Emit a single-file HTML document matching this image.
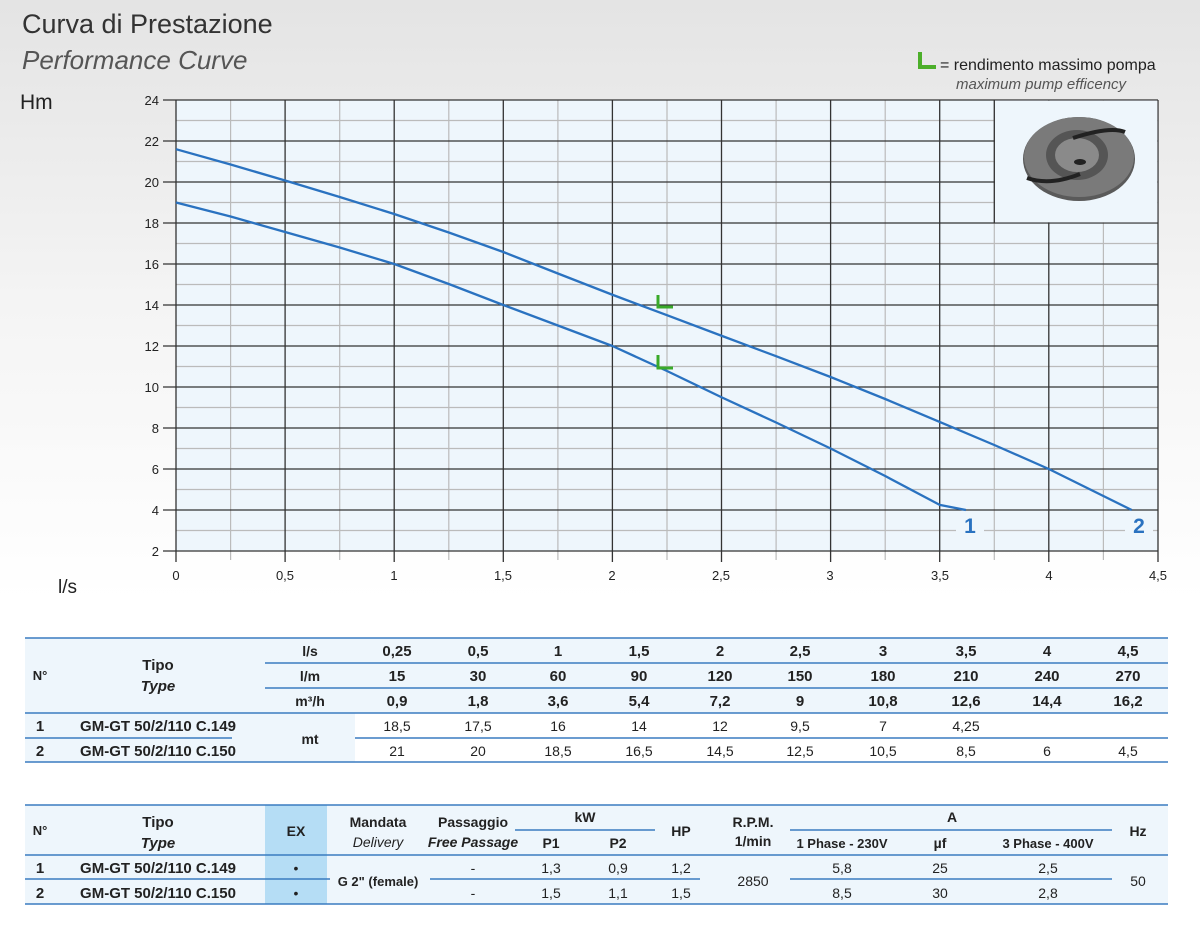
<!DOCTYPE html>
<html><head><meta charset="utf-8"><style>
html,body{margin:0;padding:0}
body{width:1200px;height:929px;overflow:hidden;background:linear-gradient(#e4e4e4 0px,#f4f4f4 300px,#fff 600px);}
svg{display:block;font-family:"Liberation Sans",sans-serif}
.c{font-family:"Liberation Sans Narrow","Liberation Sans",sans-serif;font-weight:bold;font-size:14px;fill:#222;text-anchor:middle}
.n{font-family:"Liberation Sans",sans-serif;font-size:14px;fill:#222;text-anchor:middle}
.tk{font-size:13px;fill:#222}
</style></head><body>
<svg width="1200" height="929" viewBox="0 0 1200 929">
<text x="22" y="33" font-size="27" fill="#333">Curva di Prestazione</text>
<text x="22" y="69" font-size="26" font-style="italic" fill="#555">Performance Curve</text>
<text x="20" y="109" font-size="21" fill="#222">Hm</text>
<text x="58" y="593" font-size="19" fill="#222">l/s</text>
<path d="M920 52 V67 H936" stroke="#4caf2a" stroke-width="4" fill="none"/>
<text x="940" y="70" font-size="16" fill="#222">= rendimento massimo pompa</text>
<text x="956" y="89" font-size="15" font-style="italic" fill="#555">maximum pump efficency</text>

<rect x="176" y="100" width="982" height="451" fill="#eef6fc"/>
<g stroke="#bbb" stroke-width="1.2">
<line x1="230.6" y1="100" x2="230.6" y2="560"/><line x1="339.7" y1="100" x2="339.7" y2="560"/><line x1="448.8" y1="100" x2="448.8" y2="560"/><line x1="557.9" y1="100" x2="557.9" y2="560"/><line x1="667" y1="100" x2="667" y2="560"/><line x1="776.1" y1="100" x2="776.1" y2="560"/><line x1="885.2" y1="100" x2="885.2" y2="560"/><line x1="994.3" y1="100" x2="994.3" y2="560"/><line x1="1103.4" y1="100" x2="1103.4" y2="560"/>
<line x1="176" y1="120.5" x2="1158" y2="120.5"/><line x1="176" y1="161.5" x2="1158" y2="161.5"/><line x1="176" y1="202.5" x2="1158" y2="202.5"/><line x1="176" y1="243.5" x2="1158" y2="243.5"/><line x1="176" y1="284.5" x2="1158" y2="284.5"/><line x1="176" y1="325.5" x2="1158" y2="325.5"/><line x1="176" y1="366.5" x2="1158" y2="366.5"/><line x1="176" y1="407.5" x2="1158" y2="407.5"/><line x1="176" y1="448.5" x2="1158" y2="448.5"/><line x1="176" y1="489.5" x2="1158" y2="489.5"/><line x1="176" y1="530.5" x2="1158" y2="530.5"/>
</g>
<g stroke="#333" stroke-width="1.3">
<line x1="176" y1="100" x2="176" y2="562"/><line x1="285.1" y1="100" x2="285.1" y2="562"/><line x1="394.2" y1="100" x2="394.2" y2="562"/><line x1="503.3" y1="100" x2="503.3" y2="562"/><line x1="612.4" y1="100" x2="612.4" y2="562"/><line x1="721.5" y1="100" x2="721.5" y2="562"/><line x1="830.6" y1="100" x2="830.6" y2="562"/><line x1="939.7" y1="100" x2="939.7" y2="562"/><line x1="1048.8" y1="100" x2="1048.8" y2="562"/><line x1="1158" y1="100" x2="1158" y2="562"/>
<line x1="163" y1="100" x2="1158" y2="100"/><line x1="163" y1="141" x2="1158" y2="141"/><line x1="163" y1="182" x2="1158" y2="182"/><line x1="163" y1="223" x2="1158" y2="223"/><line x1="163" y1="264" x2="1158" y2="264"/><line x1="163" y1="305" x2="1158" y2="305"/><line x1="163" y1="346" x2="1158" y2="346"/><line x1="163" y1="387" x2="1158" y2="387"/><line x1="163" y1="428" x2="1158" y2="428"/><line x1="163" y1="469" x2="1158" y2="469"/><line x1="163" y1="510" x2="1158" y2="510"/><line x1="163" y1="551" x2="1158" y2="551"/>
</g>
<rect x="995" y="100.7" width="162.3" height="121.6" fill="#eef6fc" stroke="none"/>
<line x1="994.3" y1="100" x2="994.3" y2="223" stroke="#333" stroke-width="1.3"/>
<ellipse cx="1079" cy="159" rx="56" ry="42" fill="#5a5a5a"/>
<ellipse cx="1079" cy="157" rx="55" ry="40" fill="#7a7a7a"/>
<ellipse cx="1077" cy="155" rx="31" ry="25" fill="#555"/>
<ellipse cx="1077" cy="155" rx="22" ry="17" fill="#8a8a8a"/>
<ellipse cx="1080" cy="162" rx="6" ry="3" fill="#222"/>
<path d="M1073 138 Q1110 126 1125 132" stroke="#222" stroke-width="4" fill="none"/>
<path d="M1080 174 Q1050 186 1027 178" stroke="#222" stroke-width="4" fill="none"/>
<g class="tk" text-anchor="end">
<text x="159" y="105">24</text><text x="159" y="146">22</text><text x="159" y="187">20</text><text x="159" y="228">18</text><text x="159" y="269">16</text><text x="159" y="310">14</text><text x="159" y="351">12</text><text x="159" y="392">10</text><text x="159" y="433">8</text><text x="159" y="474">6</text><text x="159" y="515">4</text><text x="159" y="556">2</text>
</g>
<g class="tk" text-anchor="middle">
<text x="176" y="580">0</text><text x="285" y="580">0,5</text><text x="394" y="580">1</text><text x="503" y="580">1,5</text><text x="612" y="580">2</text><text x="721" y="580">2,5</text><text x="830" y="580">3</text><text x="940" y="580">3,5</text><text x="1049" y="580">4</text><text x="1158" y="580">4,5</text>
</g>
<g fill="none" stroke="#2a72c0" stroke-width="2.3" stroke-linejoin="round">
<polyline points="176,202.5 230.6,216.5 285.1,232 339.7,247.5 394.2,264 448.8,284 503.3,305 557.9,325.5 612.4,346 667,371 721.5,397.25 776.1,422.5 830.6,448.5 885.2,476 939.7,504.9 965.9,510"/>
<polyline points="176,149.2 230.6,164.5 285.1,180.5 339.7,197 394.2,214 448.8,232.5 503.3,252 557.9,273.5 612.4,294.75 667,315.2 721.5,335.75 776.1,356.2 830.6,377 885.2,399 939.7,421.9 994.3,445 1048.8,469 1131.7,510"/>
</g>
<path d="M658 295 V307 H673 M658 355 V368 H673" stroke="#3aaa2a" stroke-width="3" fill="none"/>
<rect x="956" y="514" width="28" height="24" fill="#eef6fc"/>
<rect x="1125" y="514" width="28" height="24" fill="#eef6fc"/>
<text x="970" y="533" font-size="21" font-weight="bold" fill="#2a72c0" text-anchor="middle">1</text>
<text x="1139" y="533" font-size="21" font-weight="bold" fill="#2a72c0" text-anchor="middle">2</text>

<!-- Table 1 -->
<rect x="25" y="638" width="1143" height="124" fill="#eef6fc"/>
<rect x="355" y="713" width="813" height="49" fill="#fff"/>
<g stroke="#3a7cc0" stroke-width="1.5">
<line x1="25" y1="638" x2="1168" y2="638"/><line x1="265" y1="663" x2="1168" y2="663"/><line x1="265" y1="688" x2="1168" y2="688"/><line x1="25" y1="713" x2="1168" y2="713"/><line x1="25" y1="738" x2="232" y2="738"/><line x1="355" y1="738" x2="1168" y2="738"/><line x1="25" y1="762" x2="1168" y2="762"/>
</g>
<text class="c" x="40" y="680" style="font-size:13px">N°</text>
<text class="c" x="158" y="670" style="font-size:15px">Tipo</text>
<text class="c" x="158" y="691" style="font-size:15px;font-style:italic">Type</text>
<text class="c" x="310" y="656">l/s</text><text class="c" x="310" y="681">l/m</text><text class="c" x="310" y="706">m³/h</text>
<g class="c" style="font-size:15px">
<text x="397" y="656">0,25</text><text x="478" y="656">0,5</text><text x="558" y="656">1</text><text x="639" y="656">1,5</text><text x="720" y="656">2</text><text x="800" y="656">2,5</text><text x="883" y="656">3</text><text x="966" y="656">3,5</text><text x="1047" y="656">4</text><text x="1128" y="656">4,5</text>
<text x="397" y="681">15</text><text x="478" y="681">30</text><text x="558" y="681">60</text><text x="639" y="681">90</text><text x="720" y="681">120</text><text x="800" y="681">150</text><text x="883" y="681">180</text><text x="966" y="681">210</text><text x="1047" y="681">240</text><text x="1128" y="681">270</text>
<text x="397" y="706">0,9</text><text x="478" y="706">1,8</text><text x="558" y="706">3,6</text><text x="639" y="706">5,4</text><text x="720" y="706">7,2</text><text x="800" y="706">9</text><text x="883" y="706">10,8</text><text x="966" y="706">12,6</text><text x="1047" y="706">14,4</text><text x="1128" y="706">16,2</text>
<text x="40" y="731">1</text><text x="158" y="731">GM-GT 50/2/110 C.149</text>
<text x="40" y="756">2</text><text x="158" y="756">GM-GT 50/2/110 C.150</text>
</g>
<text class="c" x="310" y="744">mt</text>
<g class="n">
<text x="397" y="731">18,5</text><text x="478" y="731">17,5</text><text x="558" y="731">16</text><text x="639" y="731">14</text><text x="720" y="731">12</text><text x="800" y="731">9,5</text><text x="883" y="731">7</text><text x="966" y="731">4,25</text>
<text x="397" y="756">21</text><text x="478" y="756">20</text><text x="558" y="756">18,5</text><text x="639" y="756">16,5</text><text x="720" y="756">14,5</text><text x="800" y="756">12,5</text><text x="883" y="756">10,5</text><text x="966" y="756">8,5</text><text x="1047" y="756">6</text><text x="1128" y="756">4,5</text>
</g>

<!-- Table 2 -->
<rect x="25" y="805" width="1143" height="99" fill="#eef6fc"/>
<rect x="265" y="805" width="62" height="99" fill="#b5ddf5"/>
<g stroke="#3a7cc0" stroke-width="1.5">
<line x1="25" y1="805" x2="1168" y2="805"/><line x1="515" y1="830" x2="655" y2="830"/><line x1="790" y1="830" x2="1112" y2="830"/><line x1="25" y1="855" x2="1168" y2="855"/>
<line x1="25" y1="879" x2="330" y2="879"/><line x1="430" y1="879" x2="700" y2="879"/><line x1="790" y1="879" x2="1112" y2="879"/><line x1="25" y1="904" x2="1168" y2="904"/>
</g>
<text class="c" x="40" y="835" style="font-size:13px">N°</text>
<g class="c">
<text x="158" y="827" style="font-size:15px">Tipo</text>
<text x="158" y="848" style="font-size:15px;font-style:italic">Type</text>
<text x="296" y="836">EX</text>
<text x="378" y="827">Mandata</text><text x="378" y="847" style="font-style:italic;font-weight:normal">Delivery</text>
<text x="473" y="827">Passaggio</text><text x="473" y="847" style="font-style:italic">Free Passage</text>
<text x="585" y="822">kW</text><text x="551" y="848">P1</text><text x="618" y="848">P2</text>
<text x="681" y="836">HP</text>
<text x="753" y="827">R.P.M.</text><text x="753" y="846">1/min</text>
<text x="952" y="822">A</text><text x="842" y="848" style="font-size:13px">1 Phase - 230V</text><text x="940" y="848">µf</text><text x="1048" y="848" style="font-size:13px">3 Phase - 400V</text>
<text x="1138" y="836">Hz</text>
<text x="40" y="873" style="font-size:15px">1</text><text x="158" y="873" style="font-size:15px">GM-GT 50/2/110 C.149</text>
<text x="40" y="898" style="font-size:15px">2</text><text x="158" y="898" style="font-size:15px">GM-GT 50/2/110 C.150</text>
<text x="378" y="886" style="font-size:13px">G 2" (female)</text>
</g>
<g class="n">
<text x="296" y="873">•</text><text x="296" y="898">•</text>
<text x="473" y="873">-</text><text x="473" y="898">-</text>
<text x="551" y="873">1,3</text><text x="618" y="873">0,9</text><text x="681" y="873">1,2</text>
<text x="551" y="898">1,5</text><text x="618" y="898">1,1</text><text x="681" y="898">1,5</text>
<text x="753" y="886">2850</text>
<text x="842" y="873">5,8</text><text x="940" y="873">25</text><text x="1048" y="873">2,5</text>
<text x="842" y="898">8,5</text><text x="940" y="898">30</text><text x="1048" y="898">2,8</text>
<text x="1138" y="886">50</text>
</g>
</svg>
</body></html>
